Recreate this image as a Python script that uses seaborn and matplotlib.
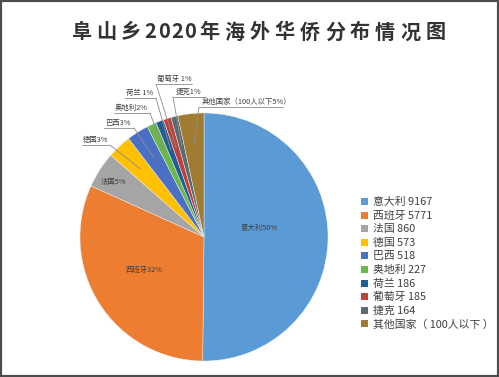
import numpy as np
import seaborn as sns
import matplotlib.pyplot as plt
from matplotlib.patches import Rectangle

sns.set_theme(style="white")
plt.rcParams['font.family'] = ['Noto Sans CJK SC', 'DejaVu Sans']

# --------------------------------------------------------------------
# Data
# --------------------------------------------------------------------
title = "阜山乡2020年海外华侨分布情况图"
countries = ['意大利', '西班牙', '法国', '德国', '巴西', '奥地利',
             '荷兰', '葡萄牙', '捷克', '其他国家']
people = [9167, 5771, 860, 573, 518, 227, 186, 185, 164, 620]
legend_labels = ['意大利 9167', '西班牙 5771', '法国 860', '德国 573',
                 '巴西 518', '奥地利 227', '荷兰 186', '葡萄牙 185',
                 '捷克 164', '其他国家（ 100人以下 ）']
slice_labels = ['意大利50%', '西班牙32%', '法国5%', '德国3%', '巴西3%',
                '奥地利2%', '荷兰 1%', '葡萄牙 1%', '捷克1%',
                '其他国家（100人以下5%）']
colors = ['#5b9bd5', '#ed7d31', '#a5a5a5', '#ffc000', '#4a6fc4',
          '#6ab84a', '#1f5e96', '#c0413a', '#5a6b73', '#a07b32']

# --------------------------------------------------------------------
# Layout (pixel coordinates of the 499x377 picture, y from top)
# --------------------------------------------------------------------
W, H = 499, 377
cx, cy, R = 204, 237, 124

# inside labels: index -> (x centre, y centre)
inside = {0: (259, 228), 1: (144, 270), 2: (114, 182)}
# outside labels: index -> (text x, text y, underline x0, x1, attach side)
outside = {3: (83, 140, 82, 110, 'r'),
           4: (105, 123, 104, 134, 'r'),
           5: (115, 108, 114, 150, 'r'),
           6: (126, 93, 125, 156, 'r'),
           7: (157, 79, 156, 192, 'l'),
           8: (176, 92, 173, 206, 'l'),
           9: (202, 102, 199, 283, 'l')}

# --------------------------------------------------------------------
# Plot
# --------------------------------------------------------------------
fig = plt.figure(figsize=(W / 100, H / 100), dpi=100)
fig.patch.set_facecolor('white')
ax = fig.add_axes([0, 0, 1, 1])

palette = sns.color_palette(colors)
wedges, _ = ax.pie(people, colors=palette, startangle=90, counterclock=False,
                   center=(cx, H - cy), radius=R,
                   wedgeprops=dict(edgecolor='#f2f2f2', linewidth=0.3))
ax.set_xlim(0, W)
ax.set_ylim(0, H)
ax.set_aspect('equal')
ax.axis('off')

# Inside labels
for i, (x, y) in inside.items():
    ax.text(x, H - y, slice_labels[i], ha='center', va='center',
            fontsize=5.3, color='#404040')

# Outside labels with leader lines
for i, (x, y, x0, x1, side) in outside.items():
    ax.text(x, H - y, slice_labels[i], ha='left', va='center',
            fontsize=5.3, color='#404040')
    w = wedges[i]
    mid = np.deg2rad((w.theta1 + w.theta2) / 2)
    px = w.center[0] + 0.75 * w.r * np.cos(mid)
    py = w.center[1] + 0.75 * w.r * np.sin(mid)
    uy = H - (y + 5)
    ax.plot([x0, x1], [uy, uy], color='#8c8c8c', lw=0.6)
    start = x1 if side == 'r' else x0
    ax.plot([start, px], [uy, py], color='#8c8c8c', lw=0.6)

# Title, drawn char by char for the wide letter spacing
xpos = 81
for ch in title:
    adv = 13.3 if ch.isdigit() else 25.1
    ax.text(xpos + (adv - 25.1) / 2, H - 32, ch, ha='center', va='center',
            fontsize=14.5, fontweight='bold', color='#333333')
    xpos += adv

# Legend
leg = ax.legend(wedges, legend_labels, loc='upper left',
                bbox_to_anchor=(361, H - 197), bbox_transform=ax.transData,
                frameon=False, fontsize=7.8, handlelength=0.62,
                handleheight=0.62, handletextpad=0.5, labelspacing=0.32,
                borderpad=0, borderaxespad=0)
for t in leg.get_texts():
    t.set_color('#404040')
for p in leg.get_patches():
    p.set_edgecolor('none')

# Picture frame
fig.patches.append(Rectangle((0, 0), 1, 1, transform=fig.transFigure,
                             fill=False, edgecolor='#4d4d4d', linewidth=3))

fig.savefig('out.png', dpi=100)
